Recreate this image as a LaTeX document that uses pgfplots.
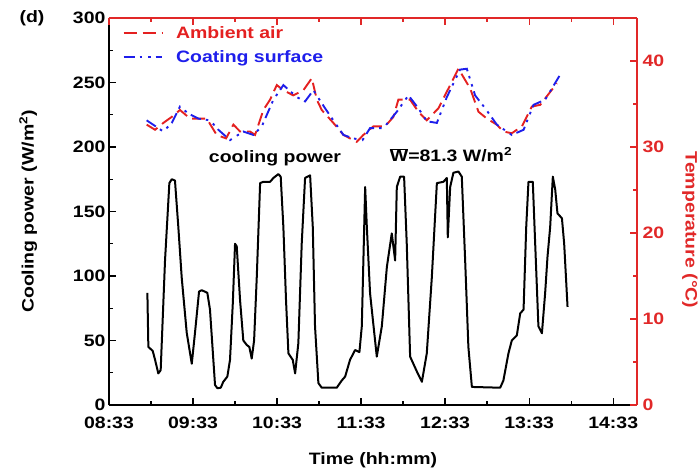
\documentclass[border=0pt]{standalone}
\usepackage{fontspec}
\setmainfont[FakeStretch=1.18]{Liberation Sans}
\usepackage{pgfplots}
\pgfplotsset{compat=1.18}
\definecolor{myred}{RGB}{228,32,32}
\definecolor{myblue}{RGB}{30,30,235}
\definecolor{axred}{RGB}{225,40,40}
\newcommand{\ff}{\fontsize{16.5}{19}\selectfont\bfseries}
\begin{document}
\begin{tikzpicture}[font=\ff]
\begin{axis}[name=ax, scale only axis, width=528pt, height=387pt,
  xmin=0, xmax=377, ymin=0, ymax=300,
  axis x line*=bottom, axis y line*=left,
  axis line style={-, line width=1.5pt, black},
  xtick={0,60,...,360},
  xticklabels={08:33,09:33,10:33,11:33,12:33,13:33,14:33},
  minor x tick num=1, ytick={0,50,...,300}, minor y tick num=1,
  tick align=inside, major tick length=7pt, minor tick length=4pt,
  tick style={line width=1.3pt, black},
  /pgf/number format/assume math mode=true,
  tick label style={font=\ff},
  xticklabel style={yshift=-8pt},
  label style={font=\ff},
  xlabel={Time (hh:mm)},
  ylabel={Cooling power (W/m\textsuperscript{2})},
  xlabel style={at={(axis description cs:0.5,0)}, anchor=center, yshift=-55pt},
  ylabel style={at={(axis description cs:-0.153,0.5)}, anchor=center},
]
\addplot[black, line width=2pt, line join=round] coordinates {
(27.4,87)(28.1,45)(31.2,42)(32.9,35)(35.2,24.5)(36.9,27)(40.0,112)(43.1,172)(44.8,175)(47.1,174)
(49.5,138)(51.9,99)(55.5,56)(59.1,32)(61.4,56)(64.3,88)(66.2,89)(70.2,87)(72.1,74)(74.5,35)
(75.7,15.5)(77.4,13)(79.8,13.4)(81.6,18)(84.5,22)(86.4,35)(88.4,79)(90.0,125)(91.2,123)(93.6,81)
(95.9,50)(98.4,46.5)(100.2,45)(101.9,36)(103.6,50)(105.5,99)(107.9,172)(110.2,173)(115.0,173)(117.4,176)
(120.9,179)(122.6,177)(124.5,138)(126.4,81)(128.1,40)(131.2,35)(132.9,24.5)(135.2,48)(137.6,125)(140.0,176)
(143.6,178)(145.5,138)(147.1,61)(149.5,17)(151.9,13.4)(162.6,13.4)(166.2,19)(168.6,22)(172.1,35)(175.7,42.6)
(178.8,41)(180.5,61)(182.9,169)(184.1,138)(186.4,86.6)(191.2,37.5)(194.8,61)(198.4,107)(201.9,133)(204.3,112)
(205.5,169)(207.9,177)(210.7,177)(212.6,125)(215.0,37.5)(219.8,26)(223.4,18)(226.9,40)(230.5,99)(234.1,172)
(238.8,173)(241.2,176)(241.9,130)(243.6,169)(245.9,180)(249.5,181)(251.9,177)(254.3,112)(256.6,45)(259.1,14)
(279.3,13.4)(281.6,19)(285.2,40)(287.6,50)(291.2,54)(293.6,71)(296.0,74)(297.9,138)(299.5,173)(302.6,173)
(304.3,125)(306.6,61)(309.1,55.6)(311.4,86.6)(313.1,115)(315.0,138)(316.9,177)(318.6,167)(320.2,148.6)(323.4,144.7)
(325.0,125)(327.4,76)
};
\node[font=\ff] at (axis cs:118.5,191.5) {cooling power};
\node[font=\ff] at (axis cs:244.2,193.8) {$\overline{\textbf{W}}$=81.3 W/m\textsuperscript{2}};
\end{axis}
\begin{axis}[scale only axis, width=528pt, height=387pt,
  xmin=0, xmax=377, ymin=0, ymax=45,
  axis x line*=top, axis y line*=right,
  axis line style={-, line width=1.5pt, axred},
  xtick={0,60,...,360}, xticklabels={}, minor x tick num=1,
  ytick={0,10,...,40}, minor y tick num=1,
  tick align=inside, major tick length=7pt, minor tick length=4pt,
  tick style={line width=1.3pt, axred},
  /pgf/number format/assume math mode=true,
  tick label style={font=\ff},
  yticklabel style={axred, xshift=2pt},
  label style={font=\ff},
  ylabel={Temperature (°C)},
  ylabel style={axred, at={(axis description cs:1.1,0.452)}, anchor=center, rotate=180},
  legend style={at={(0.02,0.99)}, anchor=north west, draw=none, fill=none, font=\ff,
    row sep=7pt, /tikz/every odd column/.append style={column sep=11pt}},
  legend cell align=left,
  legend image code/.code={\draw[#1] (0cm,0cm) -- (1.35cm,0cm);},
]
\addplot[myred, line width=1.9pt, dash pattern=on 13pt off 6pt] coordinates {
(26.9,32.6)(32.9,32.0)(38.8,32.8)(44.8,33.5)(50.7,34.3)(57.9,33.3)(69.8,33.3)(76.9,31.4)(83.6,31.0)(88.8,32.6)
(93.6,31.8)(100.7,31.8)(104.3,31.4)(110.2,34.3)(115.0,35.5)(119.8,37.2)(124.5,36.6)(131.6,36.0)(138.8,36.6)(144.8,38.0)
(148.4,35.5)(151.9,34.3)(160.2,32.8)(167.4,31.4)(176.9,30.6)(181.6,31.4)(188.8,32.4)(197.1,32.4)(203.1,33.5)(206.6,35.5)
(215.0,35.5)(220.9,34.1)(226.9,33.1)(235.2,34.5)(243.6,37.2)(249.5,39.1)(257.9,36.8)(263.8,34.1)(269.8,33.3)(276.9,32.6)
(281.6,31.8)(287.6,31.6)(294.8,32.4)(301.9,34.7)(307.9,34.9)(315.0,36.4)(319.8,37.4)
};
\addlegendentry{\textcolor{myred}{Ambient air}}
\addplot[myblue, line width=1.9pt, dash pattern=on 11pt off 5pt on 2.5pt off 6pt on 2.5pt off 5pt] coordinates {
(26.9,33.1)(38.8,31.8)(44.8,32.8)(50.7,34.7)(56.6,33.9)(63.8,33.3)(72.1,33.1)(78.1,32.0)(86.4,30.8)(95.9,31.8)
(103.1,31.4)(109.1,32.4)(117.4,35.5)(124.5,37.2)(134.1,35.8)(140.0,35.3)(145.9,36.6)(154.3,34.5)(161.4,32.8)(167.4,31.4)
(174.5,31.0)(181.0,30.8)(186.4,32.2)(196.0,32.2)(205.5,34.1)(213.8,36.0)(220.9,34.5)(226.9,33.0)(234.1,32.8)(241.2,35.8)
(250.7,39.0)(255.5,39.1)(261.4,36.0)(268.6,34.5)(276.9,32.6)(287.6,31.4)(296.0,32.0)(303.1,34.9)(311.4,35.5)(322.1,38.4)
};
\addlegendentry{\textcolor{myblue}{Coating surface}}
\end{axis}
\node[font=\ff, anchor=center] at ([xshift=-77pt]ax.north west) {(d)};
\pgfresetboundingbox
\path (ax.south west) ++(-109pt,-68pt) rectangle ++(700pt,473pt);
\end{tikzpicture}
\end{document}
